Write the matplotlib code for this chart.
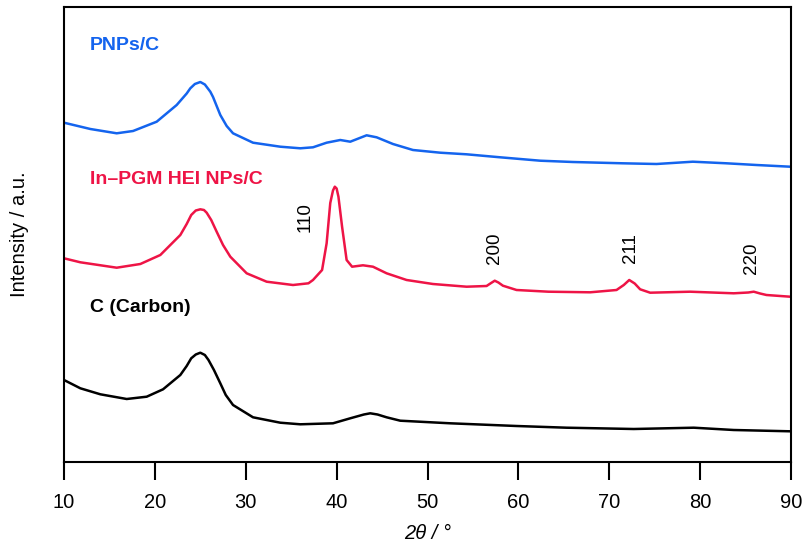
import matplotlib
matplotlib.use("Agg")
import matplotlib.pyplot as plt

plt.rcParams['font.family'] = ['Liberation Sans', 'DejaVu Sans']

# 2theta (deg) and intensity (a.u., offset traces)
pnp_x = [10.0, 12.9, 15.8, 17.6, 20.2, 22.4, 23.5, 23.9, 24.4, 25.0, 25.5, 26.1, 26.4, 27.2, 27.9, 28.6, 30.8, 33.8,
         36.0, 37.4, 38.9, 40.4, 41.5, 43.3, 44.4, 46.2, 48.4, 51.4, 54.3, 58.0, 62.4,
         66.0, 71.5, 75.2, 79.2, 82.9, 86.2, 89.9]
pnp_y = [339.3, 333.0, 328.7, 331.0, 340.3, 357.0, 368.5, 373.7, 378.0, 380.0, 377.5, 370.3, 365.0, 347.0, 336.0, 328.7, 319.3, 315.3,
         313.7, 314.7, 319.3, 322.0, 320.3, 326.7, 324.7, 318.0, 312.0, 309.3, 307.7, 304.7, 301.3,
         300.0, 298.7, 298.0, 300.3, 298.7, 297.0, 295.3]

hei_x = [10.0, 11.8, 15.8, 18.4, 20.6, 22.8, 23.5, 24.0, 24.5, 25.0, 25.4, 25.7, 26.2, 26.8, 27.5, 28.3, 30.1, 32.3, 35.2,
         36.9, 37.4, 38.4, 38.9, 39.3, 39.6, 39.8, 40.0, 40.2, 40.6, 41.1, 41.7, 42.9, 44.0, 45.5, 47.7,
         50.6, 54.3, 56.5, 57.0, 57.4, 57.8, 58.3, 59.8, 63.3, 67.9, 70.8, 71.6, 72.2, 72.8, 73.4, 74.5, 78.9, 83.7,
         85.3, 85.9, 86.6, 87.3, 89.9]
hei_y = [203.7, 199.7, 194.3, 198.0, 207.0, 227.0, 238.0, 247.0, 251.5, 252.7, 252.0, 249.3, 242.0, 230.3, 217.0, 205.3, 188.7, 180.3, 177.0,
         178.7, 182.0, 192.0, 218.7, 259.0, 271.5, 275.3, 273.5, 265.3, 235.3, 202.0, 195.3, 196.7, 195.3, 188.7, 182.0,
         178.0, 175.3, 176.0, 179.0, 181.3, 179.5, 176.3, 172.0, 170.3, 169.7, 172.0, 177.0, 182.0, 178.5, 172.7, 169.3, 170.3, 168.7,
         169.5, 170.3, 168.5, 167.0, 165.3]

c_x = [10.0, 11.8, 14.0, 16.9, 19.1, 20.9, 22.8, 23.5, 24.0, 24.5, 25.0, 25.5, 25.9, 26.5, 27.2, 27.8, 28.6, 30.8, 33.8,
       36.0, 39.6, 41.5, 43.0, 43.7, 44.5, 45.5, 47.0, 52.5, 59.8, 65.3, 72.7, 79.3, 83.7, 89.9]
c_y = [82.0, 73.7, 67.7, 63.0, 65.3, 72.7, 87.0, 96.0, 103.7, 107.5, 109.3, 107.0, 102.0, 92.0, 78.7, 67.0, 57.0, 44.7, 39.3,
       37.7, 38.7, 43.7, 47.5, 48.7, 47.5, 44.7, 41.3, 38.7, 36.0, 34.3, 33.0, 34.3, 32.0, 30.7]

series_labels = ["PNPs/C", "In\u2013PGM HEI NPs/C", "C (Carbon)"]
peak_labels = ["110", "200", "211", "220"]
peak_pos = [36.5, 57.4, 72.3, 85.7]
peak_y = [245, 214, 214, 204]
x_ticks = [10, 20, 30, 40, 50, 60, 70, 80, 90]

blue = "#1464ee"
red = "#ee1446"
black = "#000000"

fig = plt.figure(figsize=(8.06, 5.5), dpi=100)
ax = fig.add_axes([64/806, 1 - 462/550, (791-64)/806, (462-7)/550])

ax.plot(pnp_x, pnp_y, color=blue, lw=1.8)
ax.plot(hei_x, hei_y, color=red, lw=1.8)
ax.plot(c_x, c_y, color=black, lw=1.8)

ax.set_xlim(10, 90)
ax.set_ylim(0, 455)
ax.set_xticks(x_ticks)
ax.set_xticklabels([str(t) for t in x_ticks], fontsize=14.5)
ax.set_yticks([])
ax.tick_params(axis='x', direction='out', length=13, width=1.5, pad=9)
for s in ax.spines.values():
    s.set_linewidth(1.5)

# series labels (axes coordinates)
ax.text((90-64)/727, 1 - (45-7)/455, series_labels[0], transform=ax.transAxes,
        color=blue, fontsize=14, fontweight='bold', va='center', ha='left')
ax.text((90-64)/727, 1 - (180-7)/455, series_labels[1], transform=ax.transAxes,
        color=red, fontsize=14, fontweight='bold', va='center', ha='left')
ax.text((90-64)/727, 1 - (307-7)/455, series_labels[2], transform=ax.transAxes,
        color=black, fontsize=14, fontweight='bold', va='center', ha='left')

for lab, px, py in zip(peak_labels, peak_pos, peak_y):
    ax.text(px, py, lab, rotation=90, ha='center', va='center', fontsize=13.5)

ax.set_ylabel("Intensity / a.u.", fontsize=14.5, labelpad=25)
ax.set_xlabel("2\u03b8 / \u00b0", fontsize=14.5, style='italic', labelpad=9)

fig.savefig("out.png", dpi=100)
